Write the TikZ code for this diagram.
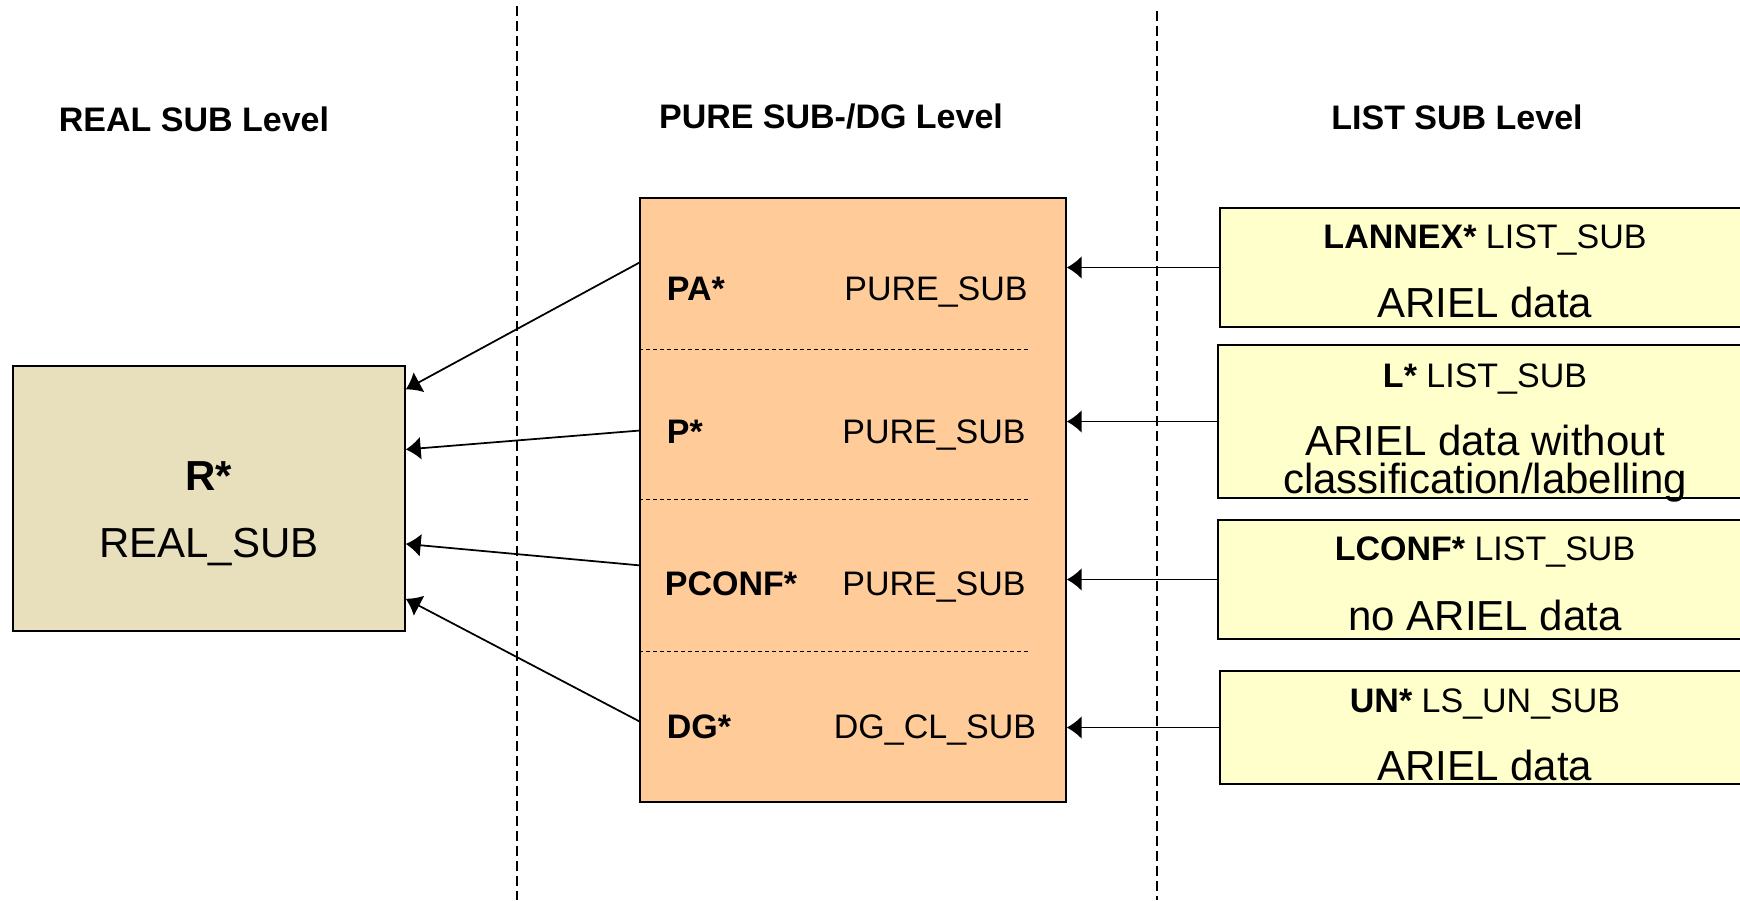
\documentclass[tikz,border=0pt]{standalone}
\usepackage{fontspec}
\setmainfont{Liberation Sans}
\usetikzlibrary{positioning,arrows.meta}

\definecolor{realfill}{HTML}{E8E0BD}
\definecolor{purefill}{HTML}{FFCC99}
\definecolor{listfill}{HTML}{FFFFCC}

\tikzset{
	box/.style = {draw, line width=0.03cm, inner sep=0pt},
	txt/.style = {anchor=base, inner sep=0pt, font=\fontsize{19.35}{23}\selectfont},
	big/.style = {anchor=base, inner sep=0pt, font=\fontsize{23.9}{28}\selectfont},
	level/.style = {anchor=base, inner sep=0pt, font=\fontsize{19.35}{23}\selectfont\bfseries},
	divider/.style = {dash pattern=on 0.2cm off 0.1cm, line width=0.025cm},
	rowsep/.style = {dash pattern=on 0.08cm off 0.06cm, line width=0.02cm},
}

\begin{document}
\begin{tikzpicture}[x=0.02cm, y=-0.02cm, >={Latex[length=0.3cm, width=0.46cm]}, line width=0.035cm]
	\useasboundingbox (0,0) rectangle (1740,900);

	% level dividers
	\draw[divider] (517,6) -- (517,900);
	\draw[divider] (1157,11) -- (1157,900);

	% headings
	\node[level] (hreal) at (194,131) {REAL SUB Level};
	\node[level] (hpure) at (831,128) {PURE SUB-/DG Level};
	\node[level] (hlist) at (1457,129) {LIST SUB Level};

	% real sub
	\node[box, fill=realfill, minimum width=7.84cm, minimum height=5.3cm] (real) at (209,498.5) {};
	\node[big, font=\fontsize{23.9}{28}\selectfont\bfseries] (rname) at (209,490) {R*};
	\node[big] (rtype) at (209,557) {REAL\_SUB};

	% pure sub / dg
	\node[box, fill=purefill, minimum width=8.52cm, minimum height=12.08cm] (pure) at (853,500) {};
	\draw[rowsep] (pure.west |- 0,349) -- (1028,349);
	\draw[rowsep] (pure.west |- 0,499) -- (1028,499);
	\draw[rowsep] (pure.west |- 0,651) -- (1028,651);
	\node[level, anchor=base west] (pa) at (666,300) {PA*};
	\node[txt] (patype) at (936,300) {PURE\_SUB};
	\node[level, anchor=base west] (p) at (666,443) {P*};
	\node[txt] (ptype) at (934,443) {PURE\_SUB};
	\node[level, anchor=base west] (pconf) at (664,595) {PCONF*};
	\node[txt] (pconftype) at (934,595) {PURE\_SUB};
	\node[level, anchor=base west] (dg) at (666,738) {DG*};
	\node[txt] (dgtype) at (935,738) {DG\_CL\_SUB};

	% list sub
	\node[box, fill=listfill, minimum width=10.8cm, minimum height=2.38cm] (lannex) at (1490,267.5) {};
	\node[txt] (lannexname) at (1485,248) {\bfseries LANNEX*\mdseries{} LIST\_SUB};
	\node[big] (lannexdata) at (1485,317) {ARIEL data};
	\node[box, fill=listfill, minimum width=10.84cm, minimum height=3.06cm] (l) at (1489,421.5) {};
	\node[txt] (lname) at (1485,387) {\bfseries L*\mdseries{} LIST\_SUB};
	\node[big] (ldata) at (1485,455) {ARIEL data without};
	\node[big] (ldata2) at (1485,493) {classification/labelling};
	\node[box, fill=listfill, minimum width=10.84cm, minimum height=2.38cm] (lconf) at (1489,579.5) {};
	\node[txt] (lconfname) at (1485,560) {\bfseries LCONF*\mdseries{} LIST\_SUB};
	\node[big] (lconfdata) at (1485,630) {no ARIEL data};
	\node[box, fill=listfill, minimum width=10.8cm, minimum height=2.26cm] (un) at (1490,727.5) {};
	\node[txt] (unname) at (1485,712) {\bfseries UN*\mdseries{} LS\_UN\_SUB};
	\node[big] (undata) at (1485,780) {ARIEL data};

	\path[->]
		(lannex.west) edge (lannex.west -| pure.east)
		(l.west) edge (l.west -| pure.east)
		(lconf.west) edge (lconf.west -| pure.east)
		(un.west) edge (un.west -| pure.east)
		(pure.132) edge (real.29)
		(pure.162) edge (real.14)
		(pure.197) edge (real.-13)
		(pure.226) edge (real.-27);
\end{tikzpicture}
\end{document}
